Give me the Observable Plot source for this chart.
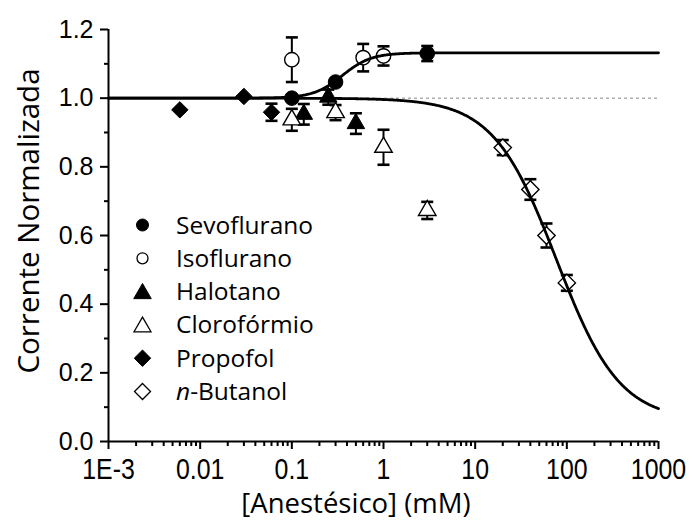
<!DOCTYPE html>
<html><head><meta charset="utf-8">
<script src="https://cdn.jsdelivr.net/npm/d3@7"></script>
<script src="https://cdn.jsdelivr.net/npm/@observablehq/plot@0.6"></script>
<style>body{margin:0;background:#fff}#chart{position:relative;width:692px;height:521px}</style>
</head><body><div id="chart"></div>
<script>
// ---- data ----
const seriesNames = ["Sevoflurano", "Isoflurano", "Halotano", "Clorofórmio", "Propofol", "n-Butanol"];

const sevoX = [0.1, 0.3, 3];
const sevoY = [1.0, 1.047, 1.13];
const sevoE = [0.0, 0.0, 0.022];

const isoX = [0.1, 0.6, 1];
const isoY = [1.112, 1.118, 1.123];
const isoE = [0.065, 0.04, 0.028];

const haloX = [0.135, 0.25, 0.5];
const haloY = [0.953, 1.003, 0.926];
const haloE = [0.03, 0.022, 0.03];

const cloroX = [0.1, 0.3, 1, 3];
const cloroY = [0.937, 0.958, 0.857, 0.673];
const cloroE = [0.032, 0.022, 0.051, 0.025];

const propX = [0.006, 0.03, 0.06];
const propY = [0.966, 1.005, 0.959];
const propE = [0.0, 0.0, 0.025];

const butX = [20, 40, 60, 100];
const butY = [0.856, 0.734, 0.600, 0.462];
const butE = [0.022, 0.03, 0.035, 0.023];

// Hill fit parameters
const fitUp = {top: 1.132, ec50: 0.356, n: 2.75};
const fitDown = {bottom: 0.06, ic50: 77, n: 1.26};

const xTickValues = [0.001, 0.01, 0.1, 1, 10, 100, 1000];
const xTickLabels = ["1E-3", "0.01", "0.1", "1", "10", "100", "1000"];
const yTickValues = [0, 0.2, 0.4, 0.6, 0.8, 1.0, 1.2];
const yTickLabels = ["0.0", "0.2", "0.4", "0.6", "0.8", "1.0", "1.2"];

// ---- build tables ----
const mk = (X, Y, E) => X.map((x, i) => ({x, y: Y[i], e: E[i]}));
const series = [
  {name: seriesNames[0], data: mk(sevoX, sevoY, sevoE), symbol: "circle", fill: "black", r: 7.3},
  {name: seriesNames[1], data: mk(isoX, isoY, isoE), symbol: "circle", fill: "white", r: 7.2},
  {name: seriesNames[2], data: mk(haloX, haloY, haloE), symbol: "triangle", fill: "black", r: 6.5},
  {name: seriesNames[3], data: mk(cloroX, cloroY, cloroE), symbol: "triangle", fill: "white", r: 6.5},
  {name: seriesNames[4], data: mk(propX, propY, propE), symbol: "diamond2", fill: "black", r: 7.4},
  {name: seriesNames[5], data: mk(butX, butY, butE), symbol: "diamond2", fill: "white", r: 7.8}
];
const allPts = series.flatMap(s => s.data);
const errPts = allPts.filter(d => d.e > 0);
const caps = errPts.flatMap(d => [{x: d.x, y: d.y + d.e}, {x: d.x, y: d.y - d.e}]);

const grid = d3.range(-3, 3.0001, 0.01).map(p => 10 ** p);
const upCurve = grid.map(x => ({x, y: 1 + (fitUp.top - 1) / (1 + Math.pow(fitUp.ec50 / x, fitUp.n))}));
const downCurve = grid.map(x => ({x, y: fitDown.bottom + (1 - fitDown.bottom) / (1 + Math.pow(x / fitDown.ic50, fitDown.n))}));

const minorX = d3.range(-3, 3).flatMap(p => d3.range(2, 10).map(m => m * 10 ** p));
const minorY = [0.1, 0.3, 0.5, 0.7, 0.9, 1.1];

const capSymbol = {draw(ctx) { ctx.moveTo(-6, 0); ctx.lineTo(6, 0); }};

const xFmt = v => xTickLabels[xTickValues.indexOf(v)];
const yFmt = v => yTickLabels[yTickValues.findIndex(t => Math.abs(t - v) < 1e-9)];

const plot = Plot.plot({
  width: 692, height: 521,
  marginLeft: 108, marginRight: 34, marginTop: 29, marginBottom: 80,
  style: {fontFamily: "'Liberation Sans', Arial, sans-serif", background: "white", color: "black"},
  x: {type: "log", domain: [1e-3, 1000]},
  y: {domain: [0, 1.2]},
  marks: [
    Plot.ruleY([1], {stroke: "#888", strokeWidth: 1, strokeDasharray: "3,3"}),
    Plot.axisX({ticks: minorX, tickSize: 5, tickFormat: () => "", strokeWidth: 2, label: null}),
    Plot.axisX({ticks: xTickValues, tickSize: 8, tickPadding: 8, tickFormat: xFmt, fontSize: 30, strokeWidth: 2, label: null}),
    Plot.axisY({ticks: minorY, tickSize: 4, tickFormat: () => "", strokeWidth: 2, label: null}),
    Plot.axisY({ticks: yTickValues, tickSize: 8, tickPadding: 7, tickFormat: yFmt, fontSize: 25, strokeWidth: 2, label: null}),
    Plot.ruleX([1e-3], {strokeWidth: 2}),
    Plot.ruleY([0], {strokeWidth: 2}),
    Plot.ruleX(errPts, {x: "x", y1: d => d.y - d.e, y2: d => d.y + d.e, strokeWidth: 2}),
    Plot.dot(caps, {x: "x", y: "y", symbol: capSymbol, stroke: "black", strokeWidth: 2.6, r: 6}),
    ...series.map(s => Plot.dot(s.data, {x: "x", y: "y", symbol: s.symbol, r: s.r, fill: s.fill, stroke: "black", strokeWidth: s.fill === "white" ? 1.4 : 1})),
    Plot.line(upCurve, {x: "x", y: "y", strokeWidth: 2.8}),
    Plot.line(downCurve, {x: "x", y: "y", strokeWidth: 2.8})
  ]
});

document.getElementById("chart").appendChild(plot);
const svg = d3.select(plot);

// condensed x tick labels
svg.selectAll('g[aria-label="x-axis tick label"] text').each(function() {
  const t = this.getAttribute("transform");
  if (t && t.includes("translate")) this.setAttribute("transform", t + " scale(0.83,1)");
});

// axis titles
svg.append("text")
  .attr("x", 356).attr("y", 513)
  .attr("text-anchor", "middle")
  .style("font-family", "'Open Sans', sans-serif").style("font-size", "27.5px")
  .text("[Anestésico] (mM)");
svg.append("text")
  .attr("transform", "translate(38.5,221) rotate(-90)")
  .attr("text-anchor", "middle")
  .style("font-family", "'Open Sans', sans-serif").style("font-size", "29.5px")
  .text("Corrente Normalizada");

// legend
const legendSym = {circle: d3.symbolCircle, triangle: d3.symbolTriangle, diamond2: d3.symbolDiamond2};
const legendR = [6, 5.5, 6.5, 6.3, 7.4, 7.2];
const lg = svg.append("g").attr("text-anchor", "start");
series.forEach((s, i) => {
  const base = 233.5 + i * 33.3;
  const cy = base - 8.5 + (s.symbol === "triangle" ? 2 : 0);
  lg.append("path")
    .attr("transform", `translate(142.5,${cy})`)
    .attr("d", d3.symbol(legendSym[s.symbol], Math.PI * legendR[i] ** 2)())
    .attr("fill", s.fill).attr("stroke", "black").attr("stroke-width", s.fill === "white" ? 1.3 : 1);
  const t = lg.append("text").attr("x", 176).attr("y", base).attr("text-anchor", "start")
    .style("font-family", "'Open Sans', sans-serif").style("font-size", "24.5px");
  if (s.name.startsWith("n-")) {
    t.append("tspan").style("font-style", "italic").text("n");
    t.append("tspan").text(s.name.slice(1));
  } else t.text(s.name);
});
</script>
</body></html>
